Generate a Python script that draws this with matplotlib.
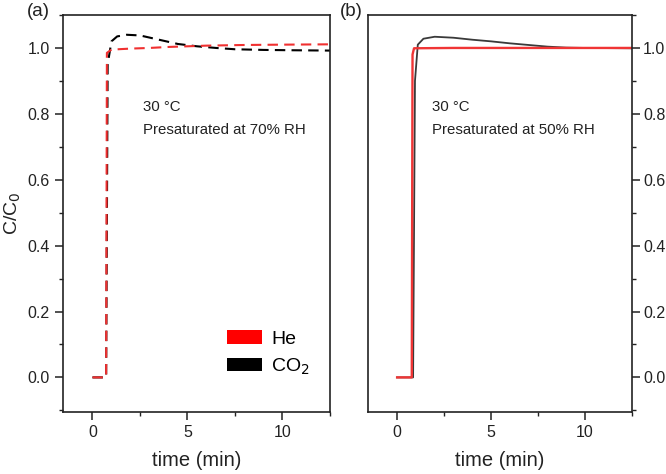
import matplotlib
matplotlib.use("Agg")
import matplotlib.pyplot as plt
from matplotlib.ticker import MultipleLocator
from matplotlib.patches import Patch

plt.rcParams['font.family'] = ['Liberation Sans', 'DejaVu Sans']

# Panel (a): presaturated at 70% RH (dashed)
a_he_t = [0, 0.72, 0.76, 1.0, 2.0, 3.0, 4.0, 5.0, 6.0, 8.0, 10.0, 12.5]
a_he_c = [0, 0, 0.985, 0.995, 0.998, 1.0, 1.003, 1.005, 1.007, 1.009, 1.010, 1.011]
a_co2_t = [0, 0.72, 0.8, 1.0, 1.3, 1.8, 2.5, 3.5, 4.5, 5.5, 6.5, 7.5, 9.0, 10.5, 12.5]
a_co2_c = [0, 0, 0.95, 1.02, 1.035, 1.040, 1.038, 1.025, 1.012, 1.005, 1.0, 0.996, 0.994, 0.993, 0.992]

# Panel (b): presaturated at 50% RH (solid)
b_he_t = [0, 0.78, 0.82, 0.9, 3.0, 6.0, 9.0, 12.5]
b_he_c = [0, 0, 0.98, 0.999, 1.0, 1.0, 1.0, 1.0]
b_co2_t = [0, 0.85, 0.95, 1.1, 1.4, 2.0, 3.0, 4.0, 5.0, 6.0, 7.0, 8.0, 9.0, 10.0, 12.5]
b_co2_c = [0, 0, 0.9, 1.01, 1.028, 1.034, 1.031, 1.025, 1.020, 1.014, 1.009, 1.004, 1.001, 1.0, 0.999]

xticks = [0, 5, 10]
yticks = [0.0, 0.2, 0.4, 0.6, 0.8, 1.0]

fig = plt.figure(figsize=(6.66, 4.74), dpi=100)
W, H = 666, 474
axa = fig.add_axes([63 / W, (H - 412) / H, 267 / W, 397 / H])
axb = fig.add_axes([368 / W, (H - 412) / H, 264 / W, 397 / H])

axa.plot(a_co2_t, a_co2_c, color='black', lw=1.5, dashes=(5, 3))
axa.plot(a_he_t, a_he_c, color='#f03030', lw=1.5, dashes=(5, 3))
axb.plot(b_co2_t, b_co2_c, color='#3a3a3a', lw=1.3)
axb.plot(b_he_t, b_he_c, color='#f03535', lw=1.7)

for ax in (axa, axb):
    ax.set_xlim(-1.55, 12.5)
    ax.set_ylim(-0.105, 1.1)
    ax.set_xticks(xticks)
    ax.set_yticks(yticks)
    ax.set_yticklabels([f"{v:.1f}" for v in yticks])
    ax.xaxis.set_minor_locator(MultipleLocator(2.5))
    ax.yaxis.set_minor_locator(MultipleLocator(0.1))
    ax.tick_params(which='major', direction='out', length=5.5, width=1.1, labelsize=11.5,
                   colors='#222222', labelcolor='#222222', pad=4)
    ax.tick_params(which='minor', direction='out', length=3, width=1.0, colors='#222222')
    for s in ax.spines.values():
        s.set_linewidth(1.2)
        s.set_color('#222222')
    ax.set_xlabel('time (min)', fontsize=14.5, color='#222222', labelpad=8)

axa.tick_params(which='both', top=False, right=False)
axb.tick_params(which='both', top=False, left=False, labelleft=False, right=True, labelright=True)
axb.tick_params(axis='y', which='major', pad=2.5)

axa.set_ylabel('C/C$_0$', fontsize=14, color='#222222', labelpad=3)


# convert pixel coords (top-left origin) to figure fractions
def fx(x):
    return x / W


def fy(y):
    return (H - y) / H


fig.text(fx(143), fy(107), '30 °C', fontsize=10.8, va='center', ha='left', color='#222222')
fig.text(fx(143), fy(130), 'Presaturated at 70% RH', fontsize=10.8, va='center', ha='left', color='#222222')
fig.text(fx(432), fy(107), '30 °C', fontsize=10.8, va='center', ha='left', color='#222222')
fig.text(fx(432), fy(130), 'Presaturated at 50% RH', fontsize=10.8, va='center', ha='left', color='#222222')

fig.text(fx(27), fy(12), '(a)', fontsize=13.5, va='center', ha='left', color='#222222')
fig.text(fx(340), fy(12), '(b)', fontsize=13.5, va='center', ha='left', color='#222222')

handles = [Patch(facecolor='#ff0000', edgecolor='none', label='He'),
           Patch(facecolor='black', edgecolor='none', label='CO$_2$')]
axa.legend(handles=handles, loc='lower right', bbox_to_anchor=(0.99, 0.045), frameon=False,
           fontsize=14, handlelength=1.8, handleheight=0.72, handletextpad=0.45, labelspacing=0.45)

fig.savefig('out.png', dpi=100)
